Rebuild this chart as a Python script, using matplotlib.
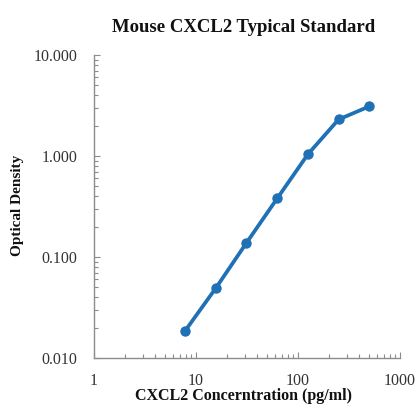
import matplotlib
matplotlib.use("Agg")
import matplotlib.pyplot as plt
from matplotlib.ticker import LogLocator, FixedLocator, FixedFormatter, NullFormatter

concentration = [7.8, 15.6, 31.25, 62.5, 125, 250, 500]
optical_density = [0.0185, 0.049, 0.138, 0.38, 1.04, 2.30, 3.10]
x_ticks = [1, 10, 100, 1000]
x_tick_labels = ["1", "10", "100", "1000"]
y_ticks = [0.01, 0.1, 1, 10]
y_tick_labels = ["0.010", "0.100", "1.000", "10.000"]

plt.rcParams['font.family'] = ['Liberation Serif', 'DejaVu Serif']

W, H = 420, 407
fig = plt.figure(figsize=(W/100, H/100), dpi=100)
ax = fig.add_axes([94/W, 1-358/H, (400-94)/W, (358-55)/H])

color = '#1f70b5'
ax.plot(concentration, optical_density, '-o', color=color, lw=2.7,
        markersize=7.5, markeredgewidth=0, solid_capstyle='round',
        solid_joinstyle='round')

ax.set_xscale('log')
ax.set_yscale('log')
ax.set_xlim(1, 1000)
ax.set_ylim(0.01, 10)

ax.xaxis.set_major_locator(FixedLocator(x_ticks))
ax.xaxis.set_major_formatter(FixedFormatter(x_tick_labels))
ax.yaxis.set_major_locator(FixedLocator(y_ticks))
ax.yaxis.set_major_formatter(FixedFormatter(y_tick_labels))
ax.xaxis.set_minor_locator(LogLocator(base=10, subs=range(2, 10)))
ax.yaxis.set_minor_locator(LogLocator(base=10, subs=range(2, 10)))
ax.xaxis.set_minor_formatter(NullFormatter())
ax.yaxis.set_minor_formatter(NullFormatter())

spine_color = '#8c8c8c'
for s in ['top', 'right']:
    ax.spines[s].set_visible(False)
for s in ['left', 'bottom']:
    ax.spines[s].set_color(spine_color)
    ax.spines[s].set_linewidth(1.0)

ax.tick_params(axis='both', which='major', direction='in', length=4, width=0.8,
               color=spine_color, labelsize=11.5, labelcolor='#333333')
ax.tick_params(axis='both', which='minor', direction='in', length=3, width=0.8,
               color=spine_color)
ax.tick_params(axis='y', which='major', pad=12)
ax.tick_params(axis='x', which='major', pad=11)

fig.text(244/W, 1-27/H, 'Mouse CXCL2 Typical Standard', fontsize=13.5,
         fontweight='bold', ha='center', va='center', color='#111111')
fig.text(243/W, 1-396/H, 'CXCL2 Concerntration (pg/ml)', fontsize=11.5,
         fontweight='bold', ha='center', va='center', color='#111111')
fig.text(18/W, 1-205/H, 'Optical Density', fontsize=11, fontweight='bold',
         ha='center', va='center', rotation=90, color='#111111')

fig.savefig('out.png', dpi=100)
